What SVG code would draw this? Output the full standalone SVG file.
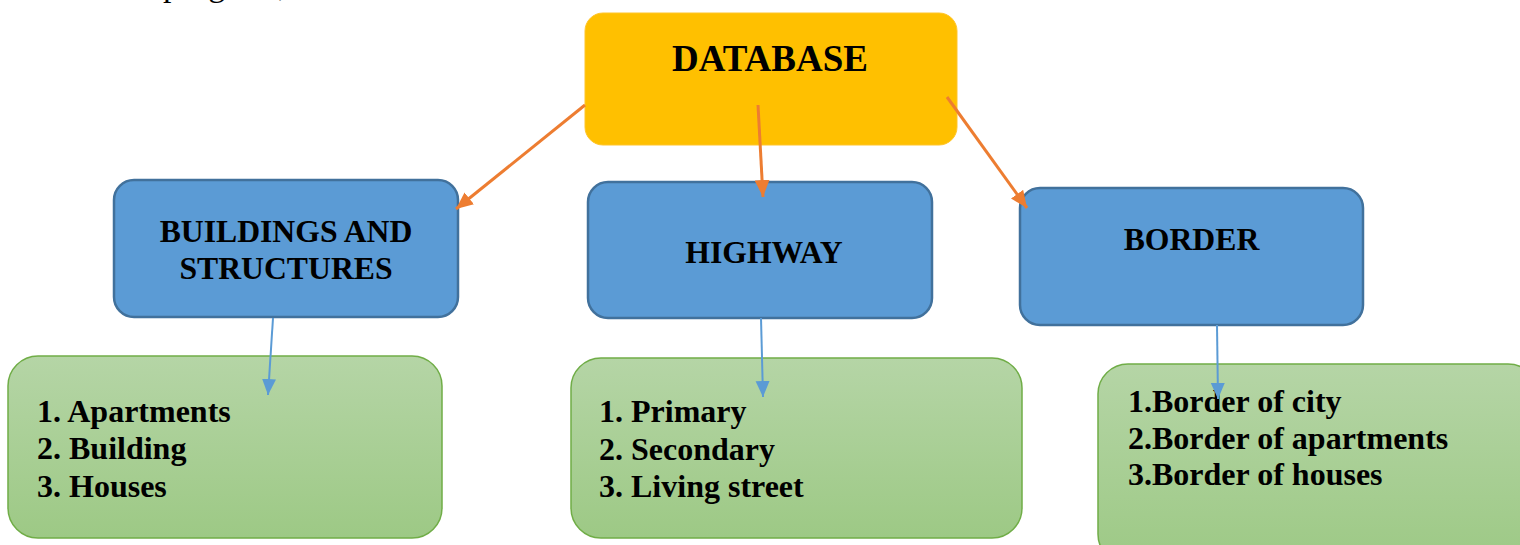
<svg xmlns="http://www.w3.org/2000/svg" width="1520" height="545" viewBox="0 0 1520 545">
<style>
  text { font-family: "Liberation Serif", "Times New Roman", serif; fill: #000; }
  .title { font-weight: bold; font-size: 37px; text-anchor: middle; }
  .label { font-weight: bold; font-size: 31.7px; text-anchor: middle; }
  .item { font-weight: bold; font-size: 32px; }
  .body { font-size: 34px; }
  .yellow { fill: #FFC000; stroke: #FFC52A; stroke-width: 1; }
  .blue { fill: #5B9BD5; stroke: #41719C; stroke-width: 2.5; }
  .green { fill: url(#greenGrad); stroke: #70AD47; stroke-width: 1.5; }
  .orange-line { stroke: #ED7D31; stroke-width: 3; fill: none; }
  .blue-line { stroke: #5B9BD5; stroke-width: 2; fill: none; }
</style>
<defs>
  <linearGradient id="greenGrad" x1="0" y1="0" x2="0" y2="1">
    <stop offset="0" stop-color="#B5D5A6"/>
    <stop offset="1" stop-color="#9DC985"/>
  </linearGradient>
  <marker id="arrowOrange" markerUnits="userSpaceOnUse" markerWidth="18" markerHeight="15" refX="17" refY="7.5" orient="auto">
    <path d="M0,0 L17,7.5 L0,15 z" fill="#ED7D31"/>
  </marker>
  <marker id="arrowBlue" markerUnits="userSpaceOnUse" markerWidth="17" markerHeight="15" refX="16" refY="7" orient="auto">
    <path d="M0,0 L16,7 L0,14 z" fill="#5B9BD5"/>
  </marker>
</defs>

<text class="body" x="163" y="-4">program,</text>

<g id="database">
  <rect class="yellow" x="585" y="13" width="372" height="132" rx="18"/>
  <text class="title" x="770" y="71">DATABASE</text>
</g>

<g id="buildings">
  <rect class="blue" x="114" y="180" width="344" height="137" rx="20"/>
  <text class="label" x="286" y="242">BUILDINGS AND</text>
  <text class="label" x="286" y="279">STRUCTURES</text>
</g>

<g id="highway">
  <rect class="blue" x="588" y="182" width="344" height="136" rx="20"/>
  <text class="label" x="764" y="263">HIGHWAY</text>
</g>

<g id="border">
  <rect class="blue" x="1020" y="188" width="343" height="137" rx="20"/>
  <text class="label" x="1191.5" y="250">BORDER</text>
</g>

<g id="buildings-list">
  <rect class="green" x="8" y="356" width="434" height="182" rx="30"/>
  <text class="item" x="37" y="422">1. Apartments</text>
  <text class="item" x="37" y="459">2. Building</text>
  <text class="item" x="37" y="497">3. Houses</text>
</g>

<g id="highway-list">
  <rect class="green" x="571" y="358" width="451" height="180" rx="30"/>
  <text class="item" x="599" y="422">1. Primary</text>
  <text class="item" x="599" y="460">2. Secondary</text>
  <text class="item" x="599" y="497">3. Living street</text>
</g>

<g id="border-list">
  <rect class="green" x="1098" y="364" width="440" height="200" rx="30"/>
  <text class="item" x="1128" y="412">1.Border of city</text>
  <text class="item" x="1128" y="449">2.Border of apartments</text>
  <text class="item" x="1128" y="485">3.Border of houses</text>
</g>

<g id="connectors">
  <line class="orange-line" x1="585" y1="105" x2="456" y2="209" marker-end="url(#arrowOrange)"/>
  <line class="orange-line" x1="758" y1="105" x2="763" y2="197" marker-end="url(#arrowOrange)"/>
  <line class="orange-line" x1="947" y1="97" x2="1027" y2="208" marker-end="url(#arrowOrange)"/>
  <line class="blue-line" x1="273" y1="318" x2="268" y2="395" marker-end="url(#arrowBlue)"/>
  <line class="blue-line" x1="761" y1="318" x2="763" y2="397" marker-end="url(#arrowBlue)"/>
  <line class="blue-line" x1="1217" y1="325" x2="1218" y2="399" marker-end="url(#arrowBlue)"/>
</g>
</svg>
